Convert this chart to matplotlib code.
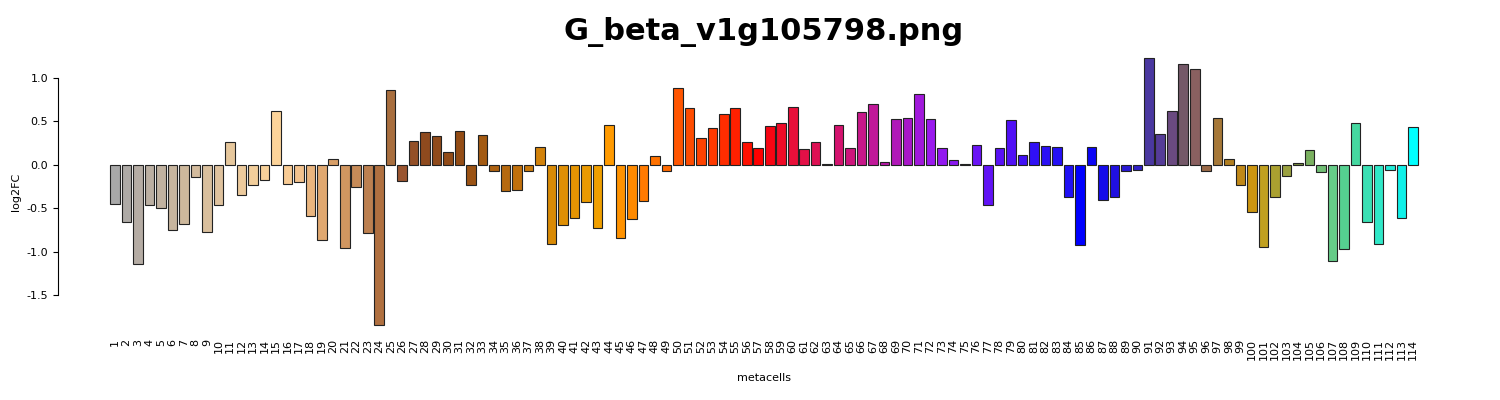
import matplotlib
matplotlib.use("Agg")
import matplotlib.pyplot as plt
from matplotlib.colors import to_rgb, to_hex
import numpy as np

categories = [str(i) for i in range(1, 115)]
values = [-0.45,-0.66,-1.14,-0.47,-0.50,-0.75,-0.68,-0.14,-0.78,-0.46,
          0.26,-0.35,-0.23,-0.18,0.61,-0.22,-0.20,-0.59,-0.87,0.06,
          -0.96,-0.26,-0.79,-1.84,0.86,-0.19,0.27,0.37,0.33,0.14,
          0.38,-0.23,0.34,-0.08,-0.30,-0.29,-0.07,0.20,-0.91,-0.69,
          -0.61,-0.43,-0.73,0.46,-0.85,-0.63,-0.42,0.10,-0.07,0.88,
          0.65,0.31,0.42,0.58,0.65,0.26,0.19,0.44,0.48,0.66,
          0.18,0.26,0.005,0.45,0.19,0.60,0.70,0.03,0.52,0.53,
          0.81,0.52,0.19,0.05,0.005,0.22,-0.46,0.19,0.51,0.11,
          0.26,0.21,0.20,-0.37,-0.92,0.20,-0.41,-0.37,-0.07,-0.06,
          1.22,0.35,0.62,1.16,1.10,-0.08,0.54,0.06,-0.24,-0.55,
          -0.95,-0.37,-0.13,0.02,0.17,-0.09,-1.11,-0.97,0.48,-0.66,
          -0.91,-0.06,-0.62,0.43]

color_anchors = {1:"#a8a8a8",3:"#b5aca4",7:"#cdb89c",10:"#dfc29e",11:"#e6c79c",15:"#fdd49a",
    17:"#f2c28e",19:"#e0a870",21:"#d09660",23:"#bc8050",24:"#b07040",25:"#a86e3e",26:"#9a5530",
    28:"#8e4a1e",31:"#934c15",33:"#a35a12",36:"#c0700d",38:"#d2820a",39:"#d98a05",43:"#f09f00",
    44:"#ff9a00",46:"#ff8a00",47:"#ff7a00",49:"#ff6a00",50:"#ff5500",53:"#ff3a00",55:"#ff2000",
    57:"#ff0000",60:"#e8103a",63:"#d81060",66:"#c8188a",68:"#b818a8",70:"#a818c8",72:"#9a1aee",
    74:"#8a18f0",76:"#6a14f5",79:"#5010f5",81:"#3010f5",84:"#2010f5",85:"#0000ff",88:"#2010e0",
    90:"#3020c8",91:"#4a38a0",92:"#553c98",93:"#6a4a80",94:"#745868",95:"#8a6060",96:"#9a6a48",
    97:"#a67838",98:"#b07e20",99:"#c08818",100:"#cc9510",101:"#c0a020",102:"#aaa030",103:"#9aa040",
    104:"#7a9040",105:"#7ab060",107:"#66cc88",108:"#55d090",109:"#45d8a0",111:"#30e8c8",
    113:"#10f0e8",114:"#00ffff"}

keys = sorted(color_anchors)
rgbs = np.array([to_rgb(color_anchors[k]) for k in keys])
colors = [to_hex([np.interp(i, keys, rgbs[:, c]) for c in range(3)]) for i in range(1, 115)]

fig = plt.figure(figsize=(15, 4), dpi=100)
ax = fig.add_axes([58/1500, 1-335/400, (1470-58)/1500, (335-48)/400])
x = 0.7 + 1.2*np.arange(len(values))
ax.bar(x, values, width=1.0, color=colors, edgecolor="#222222", linewidth=0.8)
ax.set_xlim(-5.26, 142.26)
ax.set_ylim(-1.96, 1.34)
for s in ["top", "right", "bottom"]:
    ax.spines[s].set_visible(False)
ax.spines["left"].set_bounds(-1.5, 1.0)
ax.set_yticks([-1.5, -1.0, -0.5, 0.0, 0.5, 1.0])
ax.set_yticklabels(["-1.5", "-1.0", "-0.5", "0.0", "0.5", "1.0"], fontsize=8)
ax.set_xticks(x)
ax.set_xticklabels(categories, rotation=90, fontsize=8)
ax.tick_params(axis="x", length=0, pad=3)
ax.set_ylabel("log2FC", fontsize=8)
fig.text(764/1500, 1-378/400, "metacells", ha="center", va="center", fontsize=8)
fig.text(764/1500, 1-32/400, "G_beta_v1g105798.png", ha="center", va="center",
         fontsize=22, fontweight="bold")
fig.savefig("out.png", dpi=100)
